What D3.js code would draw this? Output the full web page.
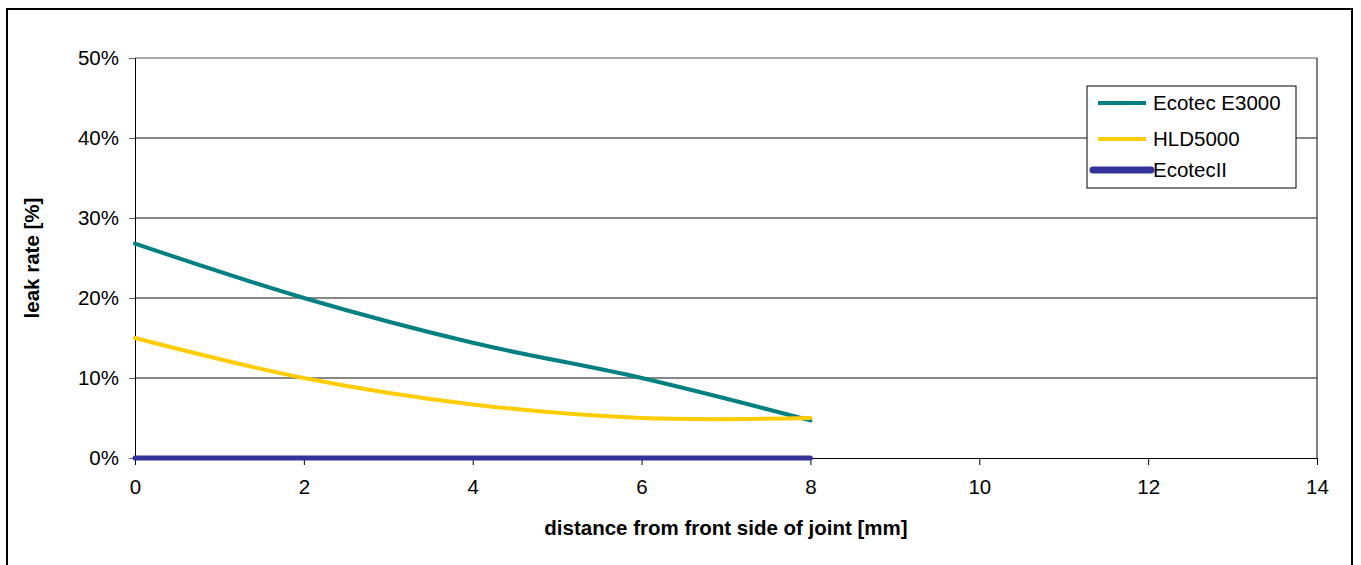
<!DOCTYPE html>
<html>
<head>
<meta charset="utf-8">
<script src="https://cdn.jsdelivr.net/npm/d3@7"></script>
<style>
  body { margin: 0; background: #fff; }
  text { font-family: "Liberation Sans", Arial, sans-serif; }
</style>
</head>
<body>
<svg width="1361" height="565"></svg>
<script>
const distances = [0, 2, 4, 6, 8];
const ecotecE3000 = [26.8, 20.0, 14.4, 10.0, 4.7];
const hld5000 = [15.0, 10.0, 6.7, 5.0, 5.0];
const ecotecII = [0, 0, 0, 0, 0];
const seriesNames = ["Ecotec E3000", "HLD5000", "EcotecII"];
const xTicks = [0, 2, 4, 6, 8, 10, 12, 14];
const yTicks = [0, 10, 20, 30, 40, 50];

const series = [
  { name: seriesNames[0], values: ecotecE3000, color: "#008080", width: 4 },
  { name: seriesNames[1], values: hld5000, color: "#FFCC00", width: 4 },
  { name: seriesNames[2], values: ecotecII, color: "#333399", width: 5 }
];

const fs = 20.5;
const svg = d3.select("svg");

// outer frame
svg.append("rect")
  .attr("x", 7).attr("y", 9)
  .attr("width", 1345).attr("height", 565)
  .attr("fill", "none").attr("stroke", "#000").attr("stroke-width", 2);

const pLeft = 135, pRight = 1317, pTop = 58, pBottom = 458;
const x = d3.scaleLinear().domain([0, 14]).range([pLeft, pRight]);
const y = d3.scaleLinear().domain([0, 50]).range([pBottom, pTop]);

// gridlines
svg.append("g")
  .selectAll("line")
  .data(yTicks.slice(1))
  .join("line")
  .attr("x1", pLeft).attr("x2", pRight)
  .attr("y1", d => y(d)).attr("y2", d => y(d))
  .attr("stroke", d => d === 50 ? "#555" : "#111")
  .attr("stroke-width", 1);

// right border of plot area
svg.append("line")
  .attr("x1", pRight).attr("x2", pRight)
  .attr("y1", pTop).attr("y2", pBottom)
  .attr("stroke", "#000");

// y axis
const yAxis = svg.append("g")
  .attr("transform", `translate(${pLeft},0)`)
  .call(d3.axisLeft(y).tickValues(yTicks).tickFormat(d => d + "%").tickSize(6).tickPadding(10));
yAxis.select(".domain").attr("stroke", "#000");
yAxis.selectAll(".tick line").attr("stroke", "#666");
yAxis.selectAll("text").attr("font-size", fs).attr("fill", "#000");

// x axis
const xAxis = svg.append("g")
  .attr("transform", `translate(0,${pBottom})`)
  .call(d3.axisBottom(x).tickValues(xTicks).tickSize(7).tickPadding(14));
xAxis.select(".domain").attr("stroke", "#000");
xAxis.selectAll(".tick line").attr("stroke", "#000");
xAxis.selectAll("text").attr("font-size", fs).attr("fill", "#000");

// lines
const line = d3.line()
  .x((d, i) => x(distances[i]))
  .y(d => y(d))
  .curve(d3.curveCatmullRom.alpha(0));

svg.append("g")
  .selectAll("path")
  .data(series)
  .join("path")
  .attr("d", d => line(d.values))
  .attr("fill", "none")
  .attr("stroke", d => d.color)
  .attr("stroke-width", d => d.width)
  .attr("stroke-linecap", "round");

// axis titles
svg.append("text")
  .attr("x", 726).attr("y", 535)
  .attr("text-anchor", "middle")
  .attr("font-size", fs).attr("font-weight", "bold")
  .text("distance from front side of joint [mm]");

svg.append("text")
  .attr("transform", `translate(39,258) rotate(-90)`)
  .attr("text-anchor", "middle")
  .attr("font-size", fs).attr("font-weight", "bold")
  .text("leak rate [%]");

// legend
const legend = svg.append("g").attr("transform", "translate(1087,86)");
legend.append("rect")
  .attr("width", 209).attr("height", 102)
  .attr("fill", "#fff").attr("stroke", "#000");
const item = legend.selectAll("g.item")
  .data(series)
  .join("g")
  .attr("class", "item")
  .attr("transform", (d, i) => `translate(0,${[17, 53, 84][i]})`);
item.append("line")
  .attr("x1", d => d.width > 4 ? 6 : 11).attr("x2", d => d.width > 4 ? 64 : 59)
  .attr("stroke", d => d.color)
  .attr("stroke-width", d => d.width > 4 ? 7 : 4)
  .attr("stroke-linecap", d => d.width > 4 ? "round" : "butt");
item.append("text")
  .attr("x", 66).attr("y", 7)
  .attr("font-size", fs)
  .text(d => d.name);
</script>
</body>
</html>
